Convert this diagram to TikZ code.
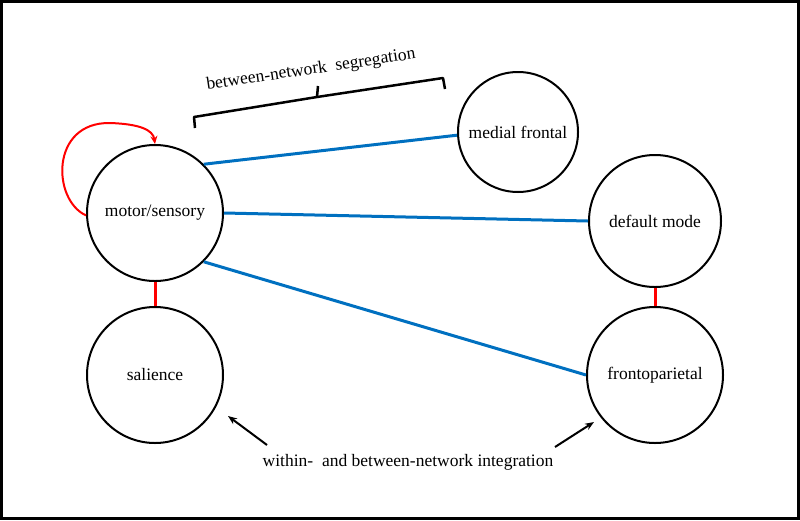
\documentclass[tikz,border=0pt]{standalone}
\usepackage{fontspec}
\setmainfont{Liberation Serif}
\usetikzlibrary{arrows.meta}
\definecolor{netblue}{HTML}{0070C0}
\begin{document}
\begin{tikzpicture}[x=1pt,y=-1pt,
  net/.style={circle,draw=black,line width=2pt,inner sep=0pt,font=\fontsize{17.5}{20}\selectfont},
  seg/.style={draw=netblue,line width=3pt},
  link/.style={draw=red,line width=3pt},
  lbl/.style={font=\fontsize{17.5}{20}\selectfont,inner sep=0pt},
  arr/.style={line width=2pt,-{Stealth[length=9pt,width=7pt]}}]
\useasboundingbox (0,0) rectangle (800,520);
\draw[line width=3pt] (1.5,1.5) rectangle (798.5,518.5);
\node[net,minimum size=136pt] (ms) at (155,213) {motor/sensory};
\node[net,minimum size=136pt] (sal) at (155,375) {salience};
\node[net,minimum size=120pt] (mf) at (518,132) {medial frontal};
\node[net,minimum size=132pt] (dm) at (655,221) {default mode};
\node[net,minimum size=136pt] (fp) at (655,375) {frontoparietal};
\draw[seg] (ms.45) -- (mf.183);
\draw[seg] (ms.0) -- (dm.180);
\draw[seg] (ms.-45) -- (fp.180);
\draw[link] (ms.south) -- (sal.north);
\draw[link] (dm.south) -- (fp.north);
\draw[red,line width=2pt,-{Stealth[length=8pt,width=7pt]}] (ms.182) .. controls (52,200) and (50,122) .. (110,123) .. controls (140,124) and (153,130) .. (ms.north);
\draw[line width=2.5pt,line join=round] (195,128) -- (194,117) -- (317,97) -- (318,86);
\draw[line width=2.5pt,line join=round] (317,97) -- (443,78) -- (445,89);
\node[lbl,rotate=8.5] (segtxt) at (311,70) {between-network\ \ segregation};
\node[lbl] (inttxt) at (408,462) {within-\ \ and\ between-network\ integration};
\coordinate (a1s) at (267,445);
\coordinate (a1e) at (228,416);
\coordinate (a2s) at (555,447);
\coordinate (a2e) at (594,422);
\draw[arr] (a1s) -- (a1e);
\draw[arr] (a2s) -- (a2e);
\end{tikzpicture}
\end{document}
